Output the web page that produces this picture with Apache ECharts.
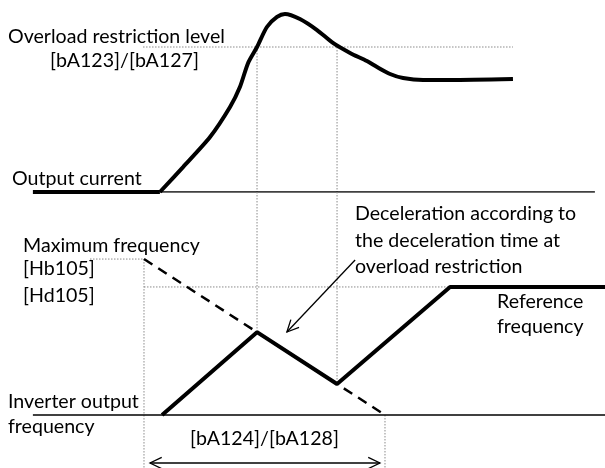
<!DOCTYPE html>
<html><head><meta charset="utf-8">
<script src="https://cdn.jsdelivr.net/npm/echarts@6/dist/echarts.min.js"></script>
<style>html,body{margin:0;padding:0;background:#fff}#c{width:605px;height:468px}</style>
</head><body><div id="c"></div>
<script>
// Time unit: 0 = start of the max-frequency deceleration ramp, 100 = its end
const currentTime  = [-46.1, 6.6, 16.2, 27.4, 35.7, 39.8, 43.2, 46.9, 51.0, 55.2, 58.5, 64.7, 71.8, 78.4, 85.5, 92.5, 96.7, 102.1, 107.5, 115.8, 127, 153.1];
const currentValue = [0, 0, 17.2, 37.9, 58.6, 72.4, 89.0, 100, 113.8, 120.7, 122.8, 119.3, 111.7, 102.8, 95.9, 90.3, 86.2, 81.4, 78.6, 77.2, 77.2, 77.9];
const overloadLevel = 100;
const overloadSpan = [-0.4, 153.1];
const currentAxisSpan = [6.6, 187.1];

const freqTime  = [7.5, 46.9, 80.1, 127, 191.3];
const freqValue = [0, 53.1, 19.9, 82.1, 82.1];
const maxFreq = 100;
const refFreq = 82.1;
const maxDecelTime  = [0, 100];
const maxDecelValue = [100, 0];
const freqAxisSpan = [-46.1, 191.3];
const maxFreqGuideStart = -22.4;
const limitTimes = [46.9, 80.1];
const limitFreq = [53.1, 19.9];
const decelArrowTime = [2.5, 97.9];
const decelArrowLevel = -30.8;
const noteArrow = [87.6, 99.4, 59.3, 53.2];

const labelTexts = ['Overload restriction level', '[bA123]/[bA127]', 'Output current',
  'Maximum frequency', '[Hb105]', '[Hd105]', 'Inverter output', 'frequency',
  '[bA124]/[bA128]', 'Deceleration according to', 'the deceleration time at',
  'overload restriction', 'Reference', 'frequency'];

// ---------- layout ----------
const X_MIN = -59.75, X_MAX = 191.29;
const FS = 19.6;
const FONT = FS + 'px Lato';
const labelPos = [[8,43],[50,67],[12,185],[23,252],[23,275],[23,302],[8,408],[8,433],[190,445],[355,220],[355,247],[355,273],[497,308],[497,333]];

const dotted = {color:'#8a8a8a', width:1, type:[1.5,1.5]};
function pairs(xs, ys){ return xs.map((x,i)=>[x, ys[i]]); }
function lineS(grid, data, style, extra){
  return Object.assign({type:'line', xAxisIndex:grid, yAxisIndex:grid, data:data, symbol:'none',
    lineStyle:style, silent:true, animation:false, z:2}, extra||{});
}
const cur = pairs(currentTime, currentValue);

const series = [
  lineS(0, [[overloadSpan[0], overloadLevel],[overloadSpan[1], overloadLevel]], dotted),
  lineS(0, [[limitTimes[0], overloadLevel],[limitTimes[0], 0]], dotted),
  lineS(0, [[limitTimes[1], overloadLevel],[limitTimes[1], 0]], dotted),
  lineS(0, [[currentAxisSpan[0],0],[currentAxisSpan[1],0]], {color:'#000', width:1.5}),
  lineS(0, cur.slice(0,2), {color:'#000', width:4}, {z:5}),
  lineS(0, cur.slice(1), {color:'#000', width:4}, {smooth:0.25, z:5}),
  lineS(1, [[maxFreqGuideStart, maxFreq],[maxDecelTime[0], maxFreq]], dotted),
  lineS(1, [[maxDecelTime[0], maxFreq],[maxDecelTime[0], -34]], dotted),
  lineS(1, [[maxDecelTime[0], refFreq],[freqTime[3], refFreq]], dotted),
  lineS(1, [[limitTimes[0], 143],[limitTimes[0], limitFreq[0]]], dotted),
  lineS(1, [[limitTimes[1], 143],[limitTimes[1], limitFreq[1]]], dotted),
  lineS(1, [[maxDecelTime[1], 0],[maxDecelTime[1], -34]], dotted),
  lineS(1, [[freqAxisSpan[0],0],[freqAxisSpan[1],0]], {color:'#000', width:1.5}),
  lineS(1, pairs(maxDecelTime, maxDecelValue), {color:'#000', width:2.5, type:[10,7]}, {z:3}),
  lineS(1, pairs(freqTime, freqValue), {color:'#000', width:4}, {z:5}),
  {
    type:'custom', xAxisIndex:1, yAxisIndex:1, silent:true, animation:false, z:6,
    dimensions:['x1','y1','x2','y2','both'],
    encode:{x:[0,2], y:[1,3]},
    data:[[decelArrowTime[0], decelArrowLevel, decelArrowTime[1], decelArrowLevel, 1], noteArrow.concat([0])],
    renderItem:function(params, api){
      const p1 = api.coord([api.value(0), api.value(1)]);
      const p2 = api.coord([api.value(2), api.value(3)]);
      const both = api.value(4) === 1;
      const st = {stroke:'#000', lineWidth:1.3, fill:null};
      function head(tip, from){
        const a = Math.atan2(from[1]-tip[1], from[0]-tip[0]);
        const L = 13, w = 0.45;
        return {type:'polyline', shape:{points:[
          [tip[0]+L*Math.cos(a+w), tip[1]+L*Math.sin(a+w)], tip,
          [tip[0]+L*Math.cos(a-w), tip[1]+L*Math.sin(a-w)]]}, style:st};
      }
      const ch = [{type:'line', shape:{x1:p1[0],y1:p1[1],x2:p2[0],y2:p2[1]}, style:st}, head(p2,p1)];
      if (both) ch.push(head(p1,p2));
      return {type:'group', children:ch};
    }
  }
];

const graphic = labelTexts.map((t,i)=>({
  type:'text', x:labelPos[i][0], y:labelPos[i][1]-FS*0.33, silent:true, z:10,
  style:{text:t, font:FONT, fill:'#000', verticalAlign:'middle', align:'left'}
}));

const chart = echarts.init(document.getElementById('c'), null, {renderer:'canvas'});
chart.setOption({
  animation:false,
  backgroundColor:'#fff',
  grid:[
    {left:0, width:605, top:3.5, height:188.5},
    {left:0, width:605, top:192, height:276.12}
  ],
  xAxis:[
    {type:'value', gridIndex:0, min:X_MIN, max:X_MAX, show:false},
    {type:'value', gridIndex:1, min:X_MIN, max:X_MAX, show:false}
  ],
  yAxis:[
    {type:'value', gridIndex:0, min:0, max:130, show:false},
    {type:'value', gridIndex:1, min:-34, max:143, show:false}
  ],
  series:series,
  graphic:graphic
});
</script></body></html>
